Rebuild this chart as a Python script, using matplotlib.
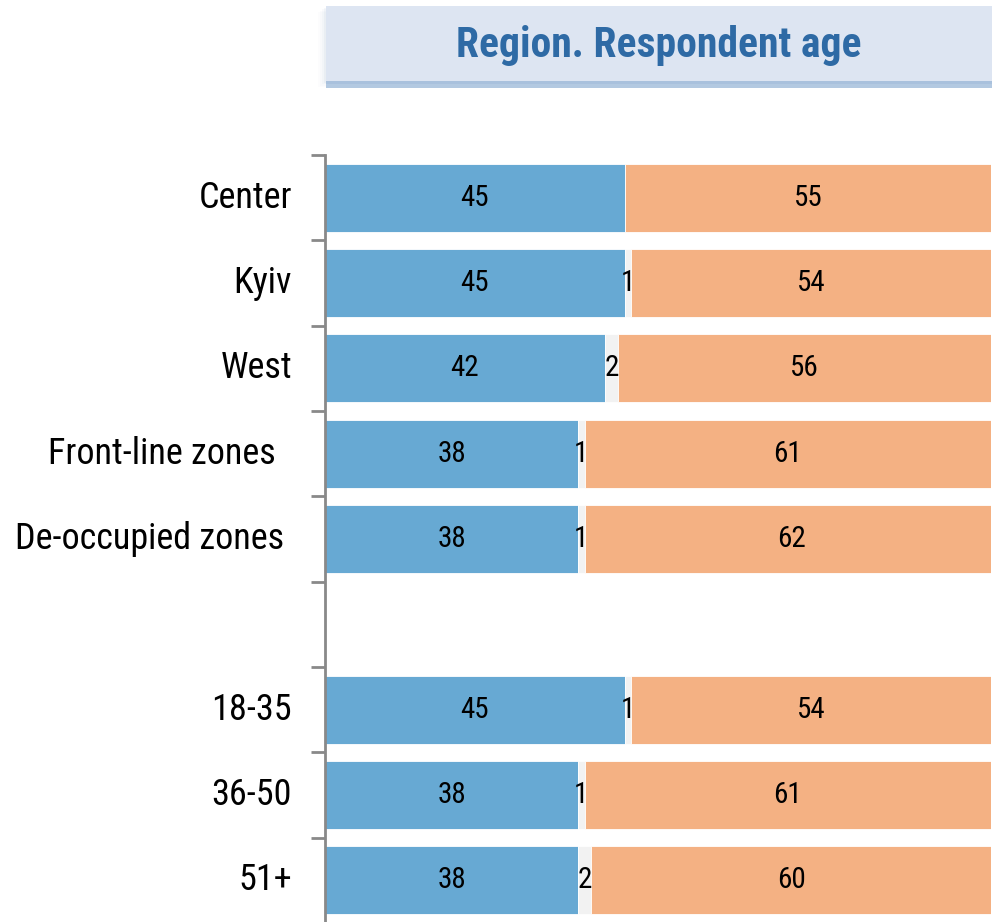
import matplotlib
matplotlib.use("Agg")
import matplotlib.pyplot as plt
from matplotlib.patches import Rectangle
from matplotlib import font_manager

# Data
categories = ["Center", "Kyiv", "West", "Front-line zones  ", "De-occupied zones ",
              "", "18-35", "36-50", "51+"]
yes_vals = [45, 45, 42, 38, 38, None, 45, 38, 38]
mid_vals = [0, 1, 2, 1, 1, None, 1, 1, 2]
no_vals = [55, 54, 56, 61, 62, None, 54, 61, 60]
title = "Region. Respondent age"

# Font: prefer a condensed sans, otherwise a regular one at reduced size
names = {f.name for f in font_manager.fontManager.ttflist}
condensed = [n for n in ["Liberation Sans Narrow", "Roboto Condensed", "Open Sans Condensed",
                         "DejaVu Sans Condensed"] if n in names]
if condensed:
    family = condensed[0]
    scale = 1.0
else:
    family = "Liberation Sans"
    scale = 0.85
plt.rcParams["font.family"] = [family, "DejaVu Sans"]

C_BLUE = "#67a9d3"
C_MID = "#f2f2f2"
C_ORANGE = "#f4b183"
C_AXIS = "#898989"

W, H = 994, 922
fig = plt.figure(figsize=(W / 100, H / 100), dpi=100)

# Title banner with soft shadow underneath
bx0, bx1, by0, by1 = 326 / W, 992 / W, 1 - 81 / H, 1 - 6 / H
for i, a in enumerate([0.05, 0.035, 0.025, 0.015]):
    d = (i + 1) / W
    fig.patches.append(Rectangle((bx0 - d * 2, by0 - (i + 1) * 1.6 / H), bx1 - bx0 + d * 2, by1 - by0,
                                 transform=fig.transFigure, facecolor="#5a7fae", alpha=a,
                                 edgecolor="none", zorder=0))
fig.patches.append(Rectangle((bx0, by0 - 7 / H), bx1 - bx0, 7 / H, transform=fig.transFigure,
                             facecolor="#b3c9e1", edgecolor="none", zorder=1))
fig.patches.append(Rectangle((bx0, by0 - 3 / H), bx1 - bx0, 3 / H, transform=fig.transFigure,
                             facecolor="#a9c1dd", edgecolor="none", zorder=1))
fig.patches.append(Rectangle((bx0, by0), bx1 - bx0, by1 - by0, transform=fig.transFigure,
                             facecolor="#dde5f2", edgecolor="none", zorder=2))
fig.text(659 / W, 1 - 45 / H, title, ha="center", va="center", fontsize=30 * scale,
         fontweight="bold", color="#2e6aa5", zorder=3)

# Bar chart area
ax = fig.add_axes([325 / W, -1 / H, (991 - 325) / W, (923 - 155) / H])
n = len(categories)
ypos = list(range(n))
bar_h = 0.8
vsize = 21 * scale

for y, a, m, b in zip(ypos, yes_vals, mid_vals, no_vals):
    if a is None:
        continue
    ax.barh(y, a, height=bar_h, left=0, color=C_BLUE, edgecolor="white", linewidth=0.6)
    ax.barh(y, m, height=bar_h, left=a, color=C_MID, edgecolor="white", linewidth=0.6)
    ax.barh(y, b, height=bar_h, left=a + m, color=C_ORANGE, edgecolor="white", linewidth=0.6)
    ax.text(a / 2, y, str(a), ha="center", va="center", fontsize=vsize, color="black")
    if m:
        ax.text(a + m / 2, y, str(m), ha="center", va="center", fontsize=vsize, color="black")
    ax.text(a + m + b / 2, y, str(b), ha="center", va="center", fontsize=vsize, color="black")

ax.set_xlim(0, 100)
ax.set_ylim(n - 0.5, -0.5)

for s in ["top", "right", "bottom"]:
    ax.spines[s].set_visible(False)
ax.spines["left"].set_color(C_AXIS)
ax.spines["left"].set_linewidth(2)
ax.set_xticks([])

# Ticks at category boundaries, labels at centres
ax.set_yticks([i - 0.5 for i in range(n + 1)])
ax.set_yticklabels([])
ax.tick_params(axis="y", direction="out", length=10, width=2, color=C_AXIS)
for y, lab in zip(ypos, categories):
    ax.text(-4.95, y, lab, ha="right", va="center", fontsize=26 * scale, color="black",
            clip_on=False)

fig.savefig("out.png", dpi=100)
